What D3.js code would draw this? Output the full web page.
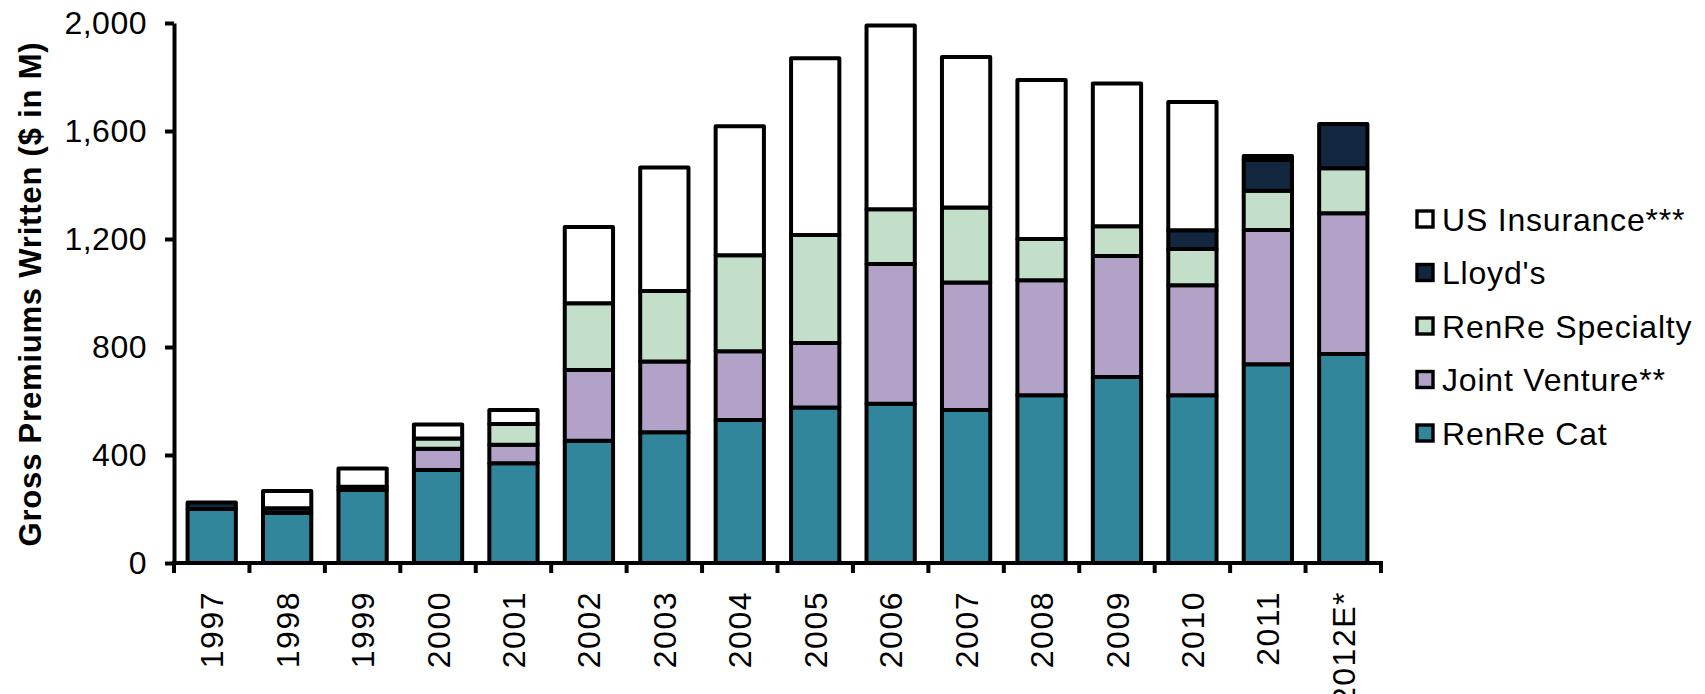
<!DOCTYPE html>
<html>
<head>
<meta charset="utf-8">
<script src="https://cdn.jsdelivr.net/npm/d3@7"></script>
<style>
  html, body { margin: 0; padding: 0; background: #ffffff; }
  svg { display: block; }
  text { font-family: "Liberation Sans", Arial, sans-serif; fill: #000; }
</style>
</head>
<body>
<svg id="chart" width="1705" height="694"></svg>
<script>
// Gross premiums written by segment, $ millions
const years = ["1997","1998","1999","2000","2001","2002","2003","2004","2005","2006","2007","2008","2009","2010","2011","2012E*"];
const renreCat       = [200, 185, 270, 344, 369, 453, 484, 530, 576, 590, 567, 621, 689, 621, 736, 774];
const jointVenture   = [  0,   0,   0,  79,  69, 262, 262, 254, 239, 517, 472, 426, 448, 408, 497, 521];
const renreSpecialty = [  0,   0,   0,  38,  77, 247, 261, 356, 400, 203, 278, 153, 110, 134, 146, 167];
const lloyds         = [ 24,  18,  12,   0,   0,   0,   0,   0,   0,   0,   0,   0,   0,  69, 114, 164];
const usInsurance    = [  0,  64,  68,  52,  52, 282, 458, 478, 654, 681, 557, 589, 529, 475,  14,   0];
const yTicks = [0, 400, 800, 1200, 1600, 2000];

// stacking order bottom -> top
const seriesKeys   = ["RenRe Cat", "Joint Venture**", "RenRe Specialty", "Lloyd's", "US Insurance***"];
const seriesValues = [renreCat, jointVenture, renreSpecialty, lloyds, usInsurance];
const seriesColors = ["#31869b", "#b3a2c7", "#c3dfca", "#12263f", "#ffffff"];

const rows = years.map((yr, i) => {
  const r = { year: yr };
  seriesKeys.forEach((k, j) => { r[k] = seriesValues[j][i]; });
  return r;
});

const svg = d3.select("#chart");
const plotLeft = 174, plotRight = 1381, plotTop = 23, plotBottom = 563;
const lineW = 4;

const x = d3.scaleBand().domain(years).range([plotLeft, plotRight]).paddingInner(0.36).paddingOuter(0.18);
const y = d3.scaleLinear().domain([0, 2000]).range([plotBottom, plotTop]);
const color = d3.scaleOrdinal().domain(seriesKeys).range(seriesColors);

const stacked = d3.stack().keys(seriesKeys)(rows);

// bars
const g = svg.append("g");
stacked.forEach(layer => {
  g.selectAll(null)
    .data(layer.filter(d => d[1] - d[0] > 0))
    .join("rect")
      .attr("x", d => x(d.data.year))
      .attr("width", x.bandwidth())
      .attr("y", d => y(d[1]))
      .attr("height", d => y(d[0]) - y(d[1]))
      .attr("fill", color(layer.key))
      .attr("stroke", "#000")
      .attr("stroke-width", lineW)
      .attr("stroke-linejoin", "round");
});

// y axis
const yAxis = svg.append("g")
  .attr("transform", `translate(${plotLeft},0)`)
  .call(d3.axisLeft(y).tickValues(yTicks).tickFormat(d3.format(",")).tickSize(9).tickSizeOuter(0).tickPadding(18));
yAxis.select(".domain").attr("stroke", "#000").attr("stroke-width", lineW);
yAxis.selectAll(".tick line").attr("stroke", "#000").attr("stroke-width", lineW);
yAxis.selectAll(".tick text")
  .attr("font-size", 32)
  .attr("font-family", "Liberation Sans, Arial, sans-serif")
  .style("letter-spacing", "0.5px");

// x axis: ticks on category boundaries
const xAxisG = svg.append("g").attr("transform", `translate(0,${plotBottom})`);
xAxisG.append("line")
  .attr("x1", plotLeft - 2).attr("x2", plotRight + 2)
  .attr("stroke", "#000").attr("stroke-width", lineW);
const step = x.step();
const boundaries = d3.range(years.length + 1).map(i => plotLeft + i * step);
xAxisG.selectAll(".xtick").data(boundaries).join("line")
  .attr("class", "xtick")
  .attr("x1", d => d).attr("x2", d => d)
  .attr("y1", 0).attr("y2", 10)
  .attr("stroke", "#000").attr("stroke-width", lineW);
xAxisG.selectAll(".xlabel").data(years).join("text")
  .attr("class", "xlabel")
  .attr("transform", d => `translate(${x(d) + x.bandwidth() / 2},28) rotate(-90)`)
  .attr("text-anchor", "end")
  .attr("dy", "0.36em")
  .attr("font-size", 32)
  .style("letter-spacing", "1.5px")
  .text(d => d);

// y axis title
svg.append("text")
  .attr("transform", `translate(30,294) rotate(-90)`)
  .attr("text-anchor", "middle")
  .attr("dy", "0.36em")
  .attr("font-size", 31)
  .attr("font-weight", "bold")
  .style("letter-spacing", "0.8px")
  .text("Gross Premiums Written ($ in M)");

// legend, top entry is the top of the stack
const legendKeys = seriesKeys.slice().reverse();
const legend = svg.append("g").attr("transform", "translate(1417,219)");
const item = legend.selectAll("g").data(legendKeys).join("g")
  .attr("transform", (d, i) => `translate(0,${i * 53.5})`);
item.append("rect")
  .attr("x", 0).attr("y", -8).attr("width", 16).attr("height", 16)
  .attr("fill", d => color(d))
  .attr("stroke", "#000").attr("stroke-width", 3.4);
item.append("text")
  .attr("x", 25).attr("dy", "0.36em")
  .attr("font-size", 32)
  .style("letter-spacing", "0.8px")
  .text(d => d);
</script>
</body>
</html>
